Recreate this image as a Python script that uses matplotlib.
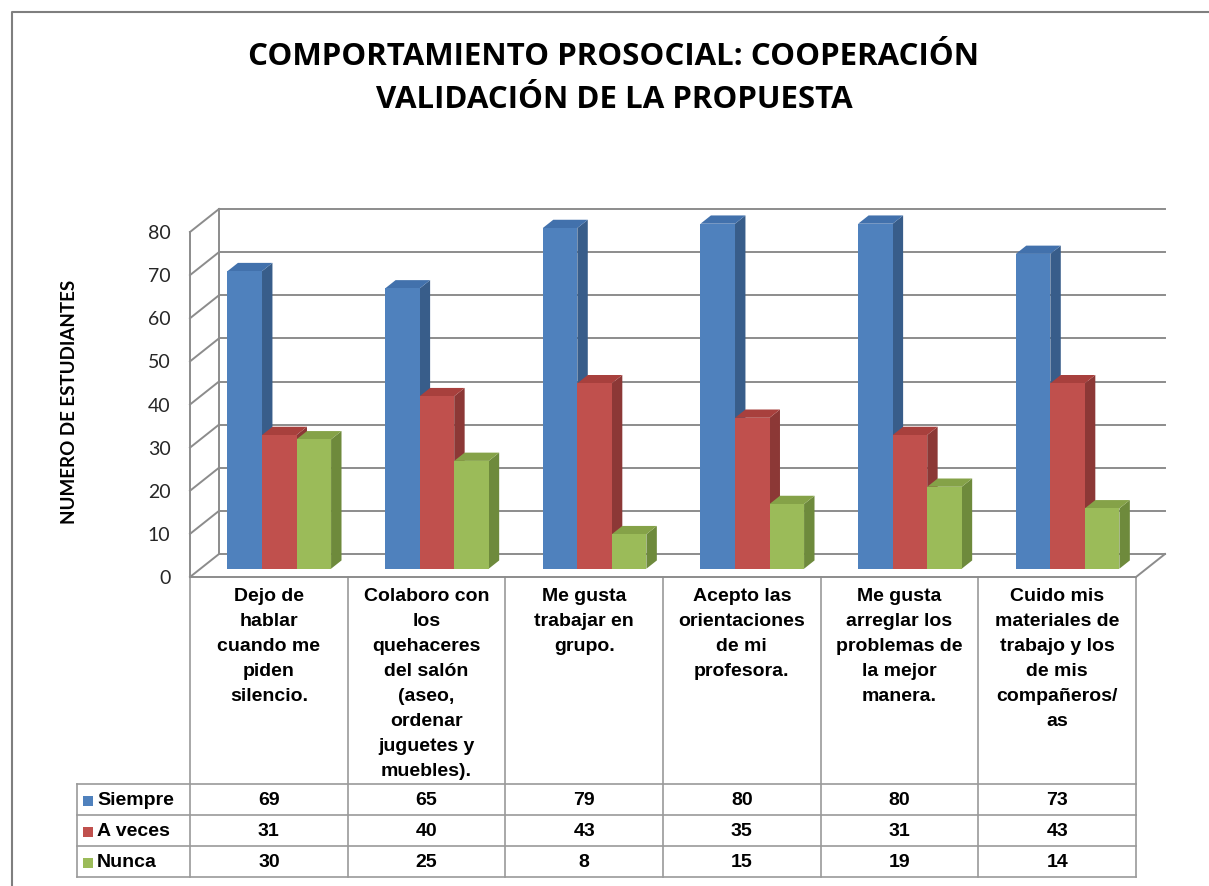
import matplotlib.pyplot as plt
from matplotlib.patches import Polygon, Rectangle

# Data
categories = [
    "Dejo de\nhablar\ncuando me\npiden\nsilencio.",
    "Colaboro con\nlos\nquehaceres\ndel salón\n(aseo,\nordenar\njuguetes y\nmuebles).",
    "Me gusta\ntrabajar en\ngrupo.",
    "Acepto las\norientaciones\nde mi\nprofesora.",
    "Me gusta\narreglar los\nproblemas de\nla mejor\nmanera.",
    "Cuido mis\nmateriales de\ntrabajo y los\nde mis\ncompañeros/\nas",
]
series_names = ["Siempre", "A veces", "Nunca"]
siempre = [69, 65, 79, 80, 80, 73]
a_veces = [31, 40, 43, 35, 31, 43]
nunca = [30, 25, 8, 15, 19, 14]
yticks = [0, 10, 20, 30, 40, 50, 60, 70, 80]

title = "COMPORTAMIENTO PROSOCIAL: COOPERACIÓN\nVALIDACIÓN DE LA PROPUESTA"
ylabel = "NUMERO DE ESTUDIANTES"

front_colors = ["#4F81BD", "#C0504D", "#9BBB59"]
top_colors = ["#4271AC", "#A8403D", "#85A248"]
side_colors = ["#385D8A", "#8C3836", "#6E8A3C"]
grid_color = "#8C8C8C"

W, H = 1209, 886
fig = plt.figure(figsize=(W / 100, H / 100), dpi=100)

# overlay in pixel coordinates for frame and table
ov = fig.add_axes([0, 0, 1, 1])
ov.set_xlim(0, W)
ov.set_ylim(H, 0)
ov.axis("off")

# plot area (front plane)
x0, x1, y0, y1 = 190, 1136, 577, 232
ax = fig.add_axes([x0 / W, (H - y0) / H, (x1 - x0) / W, (y0 - y1) / H])
ax.set_xlim(0, 6)
ax.set_ylim(0, 80)
ax.patch.set_alpha(0)
for s in ax.spines.values():
    s.set_visible(False)

n = len(siempre)
px_x = (x1 - x0) / n
px_y = (y0 - y1) / 80
ddx = 29 / px_x      # wall depth in data units
ddy = 23 / px_y

# back wall gridlines + side wall diagonals
for t in yticks:
    ax.plot([ddx, n + ddx], [t + ddy, t + ddy], color=grid_color, lw=1.4, clip_on=False)
    ax.plot([0, ddx], [t, t + ddy], color=grid_color, lw=1.4, clip_on=False)
ax.plot([0, 0], [0, 80], color=grid_color, lw=1.4, clip_on=False)
ax.plot([ddx, ddx], [ddy, 80 + ddy], color=grid_color, lw=1.4, clip_on=False)
ax.plot([0, n], [0, 0], color=grid_color, lw=1.4, clip_on=False)
ax.plot([n, n + ddx], [0, ddy], color=grid_color, lw=1.4, clip_on=False)

# bars
bw = 0.219
f = 0.36
g = 0.36
for j, vals in enumerate([siempre, a_veces, nunca]):
    for i, v in enumerate(vals):
        xl = i + 0.5 + (j - 1.5) * bw + f * ddx
        xr = xl + bw
        yb = f * ddy
        yt = v + f * ddy
        ox, oy = g * ddx, g * ddy
        ax.add_patch(Polygon([(xr, yb), (xr + ox, yb + oy), (xr + ox, yt + oy), (xr, yt)],
                             closed=True, fc=side_colors[j], ec="none", clip_on=False, zorder=3))
        ax.add_patch(Polygon([(xl, yt), (xr, yt), (xr + ox, yt + oy), (xl + ox, yt + oy)],
                             closed=True, fc=top_colors[j], ec="none", clip_on=False, zorder=3))
        ax.add_patch(Rectangle((xl, yb), bw, v, fc=front_colors[j], ec="none", clip_on=False, zorder=4))

ax.set_xticks([])
ax.set_yticks(yticks)
ax.tick_params(axis="y", length=0, pad=14, labelsize=14, labelcolor="#262626")
for lab in ax.get_yticklabels():
    lab.set_fontfamily("Lato")
ax.set_ylabel(ylabel, fontsize=13.5, fontweight="bold", family="Lato")
ax.yaxis.set_label_coords(-0.118, 0.507)

# title
fig.text(614 / W, 1 - 57 / H, title.split("\n")[0], ha="center", va="center",
         fontsize=22.5, fontweight="bold", family="Open Sans")
fig.text(614 / W, 1 - 100 / H, title.split("\n")[1], ha="center", va="center",
         fontsize=22.5, fontweight="bold", family="Open Sans")

# outer frame
ov.plot([12, 12, W], [H, 12, 12], color="#7F7F7F", lw=1.5)

# data table
lc = "#9A9A9A"
rows_y = [784, 815, 846, 877]
for k in range(n + 1):
    ov.plot([x0 + k * px_x] * 2, [y0, rows_y[-1]], color=lc, lw=1.2)
ov.plot([77, 77], [rows_y[0], rows_y[-1]], color=lc, lw=1.2)
for ry in rows_y:
    ov.plot([77, x1], [ry, ry], color=lc, lw=1.2)

tfont = dict(family="Liberation Sans", fontweight="bold", fontsize=14, color="black")
for i, c in enumerate(categories):
    ov.text(x0 + (i + 0.5) * px_x, 588, c, ha="center", va="top", linespacing=1.61, **tfont)

for j, vals in enumerate([siempre, a_veces, nunca]):
    yc = (rows_y[j] + rows_y[j + 1]) / 2 + 1
    ov.add_patch(Rectangle((83, yc - 5), 10, 10, fc=front_colors[j], ec="none"))
    ov.text(97, yc, series_names[j], ha="left", va="center", **tfont)
    for i, v in enumerate(vals):
        ov.text(x0 + (i + 0.5) * px_x, yc, str(v), ha="center", va="center", **tfont)

fig.savefig("out.png", dpi=100)
